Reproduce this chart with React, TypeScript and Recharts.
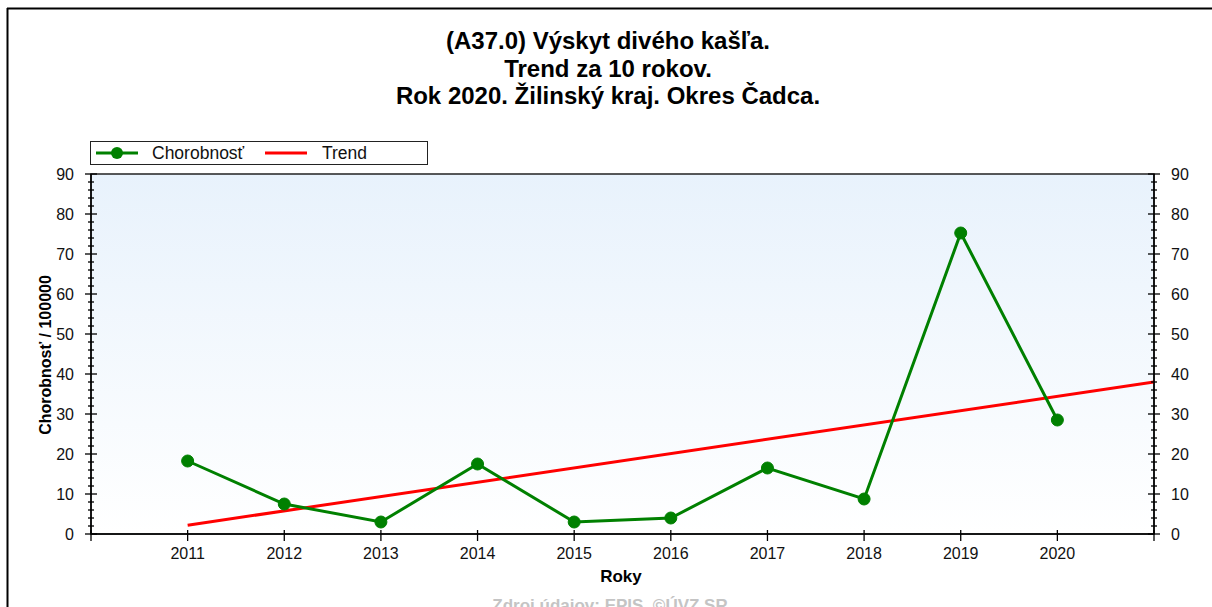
import React from 'react';
import { ComposedChart, Line, XAxis, YAxis, ReferenceArea } from 'recharts';

// ---- data ----
const years = [2011, 2012, 2013, 2014, 2015, 2016, 2017, 2018, 2019, 2020];
const incidence = [18.25, 7.5, 3, 17.5, 3, 4, 16.5, 8.75, 75.25, 28.5];
const trendYears = [2011, 2021];
const trendValues = [2.2, 38];
const xTicks = [2010, 2011, 2012, 2013, 2014, 2015, 2016, 2017, 2018, 2019, 2020, 2021];
const xLabelYears = [2011, 2012, 2013, 2014, 2015, 2016, 2017, 2018, 2019, 2020];
const yMajorTicks = [0, 10, 20, 30, 40, 50, 60, 70, 80, 90];
const yMinorStep = 2;
const titleLines = [
  '(A37.0) Výskyt divého kašľa.',
  'Trend za 10 rokov.',
  'Rok 2020. Žilinský kraj. Okres Čadca.',
];
const seriesName = 'Chorobnosť';
const trendName = 'Trend';
const yLabel = 'Chorobnosť / 100000';
const xLabel = 'Roky';
const source = 'Zdroj údajov: EPIS, ©ÚVZ SR';

const data = years.map((y, i) => ({ year: y, value: incidence[i] }));
const trendData = trendYears.map((y, i) => ({ year: y, value: trendValues[i] }));
const yTicks: number[] = [];
for (let v = 0; v <= 90; v += yMinorStep) yTicks.push(v);

const FONT = '"Liberation Sans", Arial, sans-serif';
const GREEN = '#008000';
const RED = '#ff0000';

const YTick = (side: 'left' | 'right') => (props: any) => {
  const { x, y, payload } = props;
  const v = payload.value;
  const major = yMajorTicks.includes(v);
  const len = major ? 6 : 3;
  return (
    <g>
      <line x1={x - len} x2={x + len} y1={y} y2={y} stroke="#000" strokeWidth={1.3} />
      {major && (
        <text
          x={side === 'left' ? x - 17 : x + 17}
          y={y}
          dy="0.36em"
          textAnchor={side === 'left' ? 'end' : 'start'}
          fontSize={16}
          fontFamily={FONT}
          fill="#111"
        >
          {v}
        </text>
      )}
    </g>
  );
};

const XTick = (props: any) => {
  const { x, y, payload } = props;
  const v = payload.value;
  return (
    <g>
      <line x1={x} x2={x} y1={y - 4} y2={y + 7} stroke="#000" strokeWidth={1.3} />
      {xLabelYears.includes(v) && (
        <text x={x} y={y + 25} textAnchor="middle" fontSize={16} fontFamily={FONT} fill="#111">
          {v}
        </text>
      )}
    </g>
  );
};

const LegendBox = () => (
  <div
    style={{
      position: 'absolute',
      left: 90,
      top: 141,
      width: 338,
      height: 24,
      boxSizing: 'border-box',
      border: '1.5px solid #222',
      background: '#fff',
    }}
  >
    <svg width={338} height={24} style={{ position: 'absolute', left: -1.5, top: -1.5 }}>
      <line x1={6} x2={48} y1={12} y2={12} stroke={GREEN} strokeWidth={3} />
      <circle cx={27} cy={12} r={6} fill={GREEN} />
      <text x={62} y={18} fontSize={17.5} fontFamily={FONT} fill="#111">{seriesName}</text>
      <line x1={175} x2={217} y1={12} y2={12} stroke={RED} strokeWidth={3} />
      <text x={232} y={18} fontSize={17.5} fontFamily={FONT} fill="#111">{trendName}</text>
    </svg>
  </div>
);

export default function App() {
  return (
    <div style={{ position: 'absolute', left: 0, top: 0, width: 1212, height: 607, background: '#fff', overflow: 'hidden' }}>
      <ComposedChart
        width={1212}
        height={607}
        data={data}
        margin={{ top: 174, right: 18, bottom: 43, left: 51 }}
      >
        <defs>
          <linearGradient id="bg" x1="0" y1="0" x2="0" y2="1">
            <stop offset="0%" stopColor="#e8f2fc" />
            <stop offset="100%" stopColor="#ffffff" />
          </linearGradient>
        </defs>
        <ReferenceArea
          x1={2010}
          x2={2021}
          y1={0}
          y2={90}
          yAxisId="left"
          fill="url(#bg)"
          fillOpacity={1}
          stroke="#222"
          strokeWidth={1.5}
        />
        <XAxis
          dataKey="year"
          type="number"
          domain={[2010, 2021]}
          ticks={xTicks}
          interval={0}
          tickLine={false}
          tickSize={0}
          tickMargin={0}
          tick={XTick}
          axisLine={{ stroke: '#000', strokeWidth: 1.5 }}
          height={30}
          allowDataOverflow
        />
        <YAxis
          yAxisId="left"
          orientation="left"
          domain={[0, 90]}
          ticks={yTicks}
          interval={0}
          tickLine={false}
          tickSize={0}
          tickMargin={0}
          tick={YTick('left')}
          axisLine={{ stroke: '#000', strokeWidth: 1.5 }}
          width={40}
          allowDataOverflow
        />
        <YAxis
          yAxisId="right"
          orientation="right"
          domain={[0, 90]}
          ticks={yTicks}
          interval={0}
          tickLine={false}
          tickSize={0}
          tickMargin={0}
          tick={YTick('right')}
          axisLine={{ stroke: '#000', strokeWidth: 1.5 }}
          width={40}
          allowDataOverflow
        />
        <Line
          yAxisId="left"
          data={trendData}
          dataKey="value"
          name={trendName}
          stroke={RED}
          strokeWidth={3}
          dot={false}
          activeDot={false}
          isAnimationActive={false}
        />
        <Line
          yAxisId="left"
          dataKey="value"
          name={seriesName}
          stroke={GREEN}
          strokeWidth={3}
          dot={{ r: 6, fill: GREEN, stroke: GREEN, strokeWidth: 1 }}
          activeDot={false}
          isAnimationActive={false}
        />
      </ComposedChart>
      <LegendBox />
      <svg
        width={1212}
        height={607}
        style={{ position: 'absolute', left: 0, top: 0, pointerEvents: 'none' }}
      >
        <line x1={7} x2={1212} y1={8.5} y2={8.5} stroke="#000" strokeWidth={2} />
        <line x1={7.5} x2={7.5} y1={8} y2={607} stroke="#000" strokeWidth={2} />
        {titleLines.map((t, i) => (
          <text
            key={i}
            x={608}
            y={49 + i * 27.5}
            textAnchor="middle"
            fontSize={24}
            fontWeight="bold"
            fontFamily={FONT}
            fill="#000"
          >
            {t}
          </text>
        ))}
        <text
          transform="translate(51,355) rotate(-90)"
          textAnchor="middle"
          fontSize={16}
          fontWeight="bold"
          fontFamily={FONT}
          fill="#000"
        >
          {yLabel}
        </text>
        <text x={621} y={582} textAnchor="middle" fontSize={17} fontWeight="bold" fontFamily={FONT} fill="#000">
          {xLabel}
        </text>
        <text x={610} y={611} textAnchor="middle" fontSize={17} fontWeight="bold" fontFamily={FONT} fill="#c4c4c4">
          {source}
        </text>
      </svg>
    </div>
  );
}
